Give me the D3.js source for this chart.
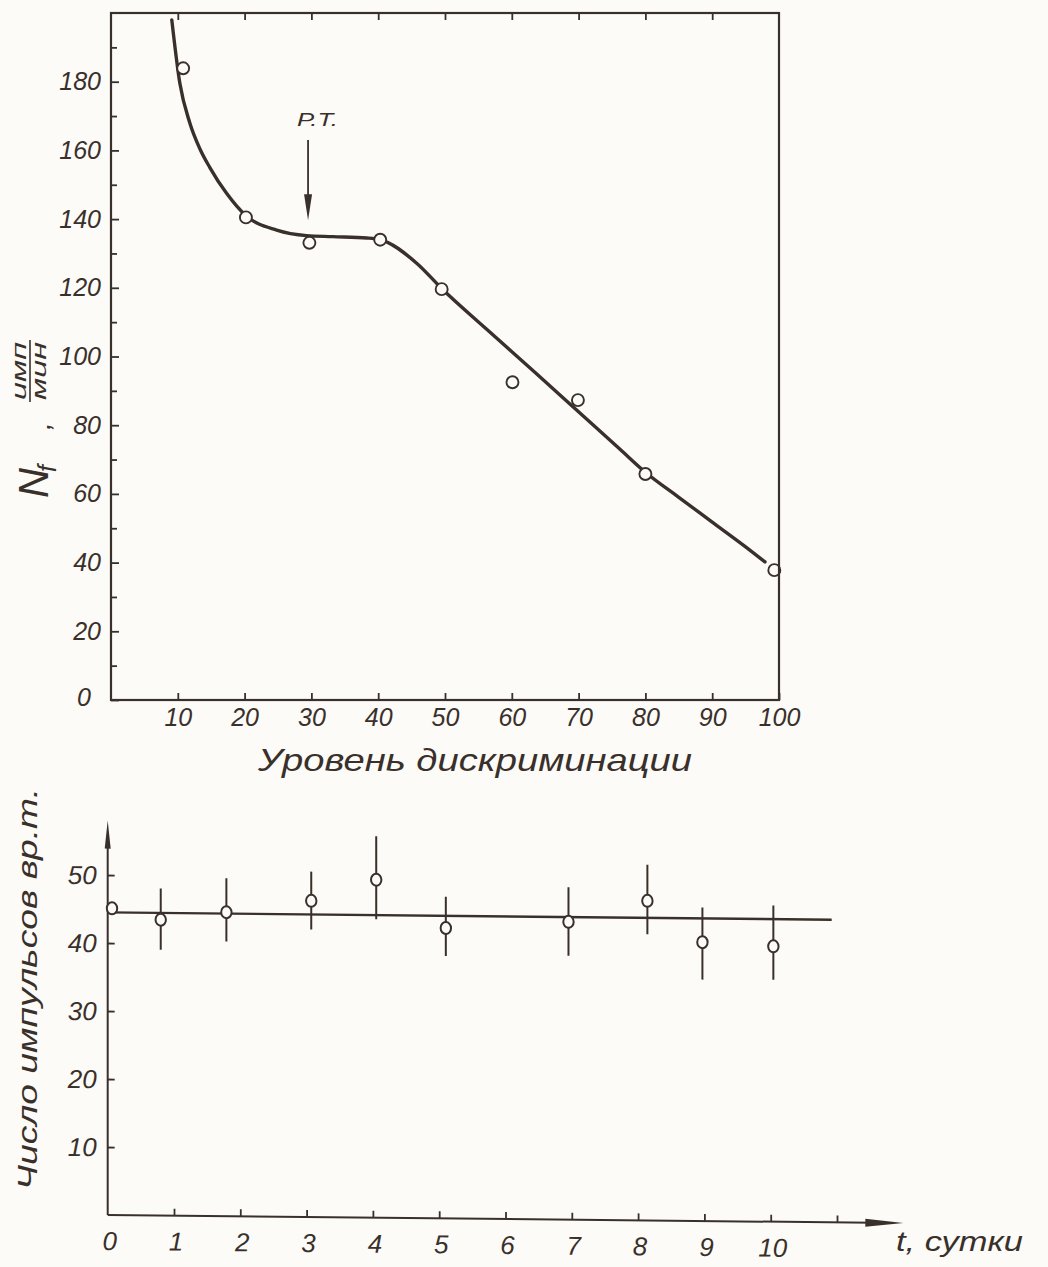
<!DOCTYPE html>
<html>
<head>
<meta charset="utf-8">
<script src="https://cdn.jsdelivr.net/npm/d3@7"></script>
<style>
  html, body { margin: 0; padding: 0; background: #fcfbf7; }
  svg { display: block; }
  text { font-family: "Liberation Sans", "DejaVu Sans", sans-serif; font-style: italic; fill: #3a302b; }
</style>
</head>
<body>
<div id="chart"></div>
<script>
// ---- upper panel: counting rate vs discrimination level ----
const topXTicks = [10, 20, 30, 40, 50, 60, 70, 80, 90, 100];
const topYMajor = [0, 20, 40, 60, 80, 100, 120, 140, 160, 180];
const topYMinor = [10, 30, 50, 70, 90, 110, 130, 150, 170, 190];

// measured points
const discrLevel = [10.8, 20.2, 29.7, 40.3, 49.5, 60.1, 69.9, 80.0, 99.3];
const countRate = [183.9, 140.5, 133.1, 134.0, 119.6, 92.5, 87.3, 65.8, 37.8];

// hand-drawn smooth curve
const curveLevel = [9.1, 10.3, 11.8, 13.3, 14.8, 17.3, 20.2, 24.8, 29.3, 33.2, 38.3, 40.3, 45.8, 49.5, 56.2, 63.7, 69.2, 76.2, 80.0, 85.0, 90.0, 95.0, 97.9];
const curveRate = [198, 179.6, 168, 160.5, 155.0, 147.5, 141.0, 136.8, 135.2, 134.9, 134.5, 134.0, 127.1, 119.8, 108.0, 95.0, 85.3, 73.0, 66.3, 59.0, 51.8, 44.6, 40.2];

// operating point marker ("Р.Т.")
const ptLevel = 29.5;
const ptArrowFrom = 163;
const ptArrowTo = 139.7;
const ptLabelAt = 167;

// ---- lower panel: counts per time interval vs days ----
const dayTicks = [1, 2, 3, 4, 5, 6, 7, 8, 9, 10, 11];
const dayLabels = [0, 1, 2, 3, 4, 5, 6, 7, 8, 9, 10];
const countTicks = [10, 20, 30, 40, 50];

const days = [0.065, 0.8, 1.79, 3.07, 4.05, 5.1, 6.95, 8.14, 8.97, 10.04];
const counts = [45.1, 43.5, 44.7, 46.5, 49.7, 42.7, 43.8, 47.0, 41.0, 40.5];
const errHigh = [null, 48.1, 49.7, 50.8, 56.1, 47.3, 48.9, 52.3, 46.1, 46.5];
const errLow = [null, 39.1, 40.4, 42.3, 43.9, 38.6, 38.8, 42.1, 35.5, 35.6];
const meanLevel = 44.5;
const meanSpan = [0, 10.92];

const ink = '#3a302b';
const paper = '#fcfbf7';

const W = 1048, H = 1267;
const svg = d3.select('#chart').append('svg').attr('width', W).attr('height', H);
svg.append('rect').attr('width', W).attr('height', H).attr('fill', paper);

// ================= upper panel =================
const x = d3.scaleLinear().domain([0, 100]).range([111, 779]);
const y = d3.scaleLinear().domain([0, 200]).range([700, 13]);

const upper = svg.append('g');

// curve first, circles cover it
upper.append('path')
  .datum(curveLevel.map((v, i) => [v, curveRate[i]]))
  .attr('fill', 'none')
  .attr('stroke', ink)
  .attr('stroke-width', 3.4)
  .attr('stroke-linecap', 'round')
  .attr('d', d3.line().x(d => x(d[0])).y(d => y(d[1])).curve(d3.curveMonotoneX));

upper.append('g').selectAll('circle')
  .data(discrLevel.map((v, i) => [v, countRate[i]]))
  .enter().append('circle')
  .attr('cx', d => x(d[0]))
  .attr('cy', d => y(d[1]))
  .attr('r', 6)
  .attr('fill', paper)
  .attr('stroke', ink)
  .attr('stroke-width', 1.9);

// frame
upper.append('rect')
  .attr('x', x(0)).attr('y', y(200))
  .attr('width', x(100) - x(0)).attr('height', y(0) - y(200))
  .attr('fill', 'none').attr('stroke', ink).attr('stroke-width', 2.2);

function styleAxis(g) {
  g.select('.domain').remove();
  g.selectAll('line').attr('stroke', ink).attr('stroke-width', 1.8);
}

// bottom ticks (inward) + labels
upper.append('g')
  .attr('transform', `translate(0,${y(0)})`)
  .call(d3.axisBottom(x).tickValues(topXTicks).tickSizeInner(-7).tickSizeOuter(0).tickPadding(8))
  .call(styleAxis)
  .call(g => g.selectAll('text').attr('font-size', 25).attr('dy', '0.71em').attr('fill', ink));

// top ticks (inward)
upper.append('g')
  .attr('transform', `translate(0,${y(200)})`)
  .call(d3.axisTop(x).tickValues(topXTicks.slice(0, 9)).tickSizeInner(-7).tickSizeOuter(0).tickFormat(''))
  .call(styleAxis);

// left ticks: major with labels, minor without
upper.append('g')
  .attr('transform', `translate(${x(0)},0)`)
  .call(d3.axisLeft(y).tickValues(topYMajor).tickSizeInner(-8).tickSizeOuter(0).tickPadding(10))
  .call(styleAxis)
  .call(g => g.selectAll('text').attr('font-size', 25).attr('fill', ink)
    .attr('dx', d => d === 0 ? -10 : 0).attr('dy', d => d === 0 ? '0.2em' : '0.32em'));

upper.append('g')
  .attr('transform', `translate(${x(0)},0)`)
  .call(d3.axisLeft(y).tickValues(topYMinor).tickSizeInner(-6).tickSizeOuter(0).tickFormat(''))
  .call(styleAxis);

// operating point arrow
upper.append('line')
  .attr('x1', x(ptLevel)).attr('x2', x(ptLevel))
  .attr('y1', y(ptArrowFrom)).attr('y2', y(ptArrowTo) - 24)
  .attr('stroke', ink).attr('stroke-width', 1.8);
upper.append('path')
  .attr('d', `M${x(ptLevel) - 4},${y(ptArrowTo) - 26} L${x(ptLevel) + 4},${y(ptArrowTo) - 26} L${x(ptLevel)},${y(ptArrowTo)} Z`)
  .attr('fill', ink);

upper.append('text')
  .attr('x', x(ptLevel) - 11).attr('y', y(ptLabelAt))
  .attr('font-size', 19)
  .attr('textLength', 41).attr('lengthAdjust', 'spacingAndGlyphs')
  .text('Р.Т.');

// x title
upper.append('text')
  .attr('x', 258).attr('y', 771)
  .attr('font-size', 32)
  .attr('textLength', 434).attr('lengthAdjust', 'spacingAndGlyphs')
  .text('Уровень дискриминации');

// y title: N_f , имп/мин (rotated)
const yt = upper.append('g').attr('transform', 'rotate(-90)');
yt.append('text')
  .attr('x', -498).attr('y', 48)
  .attr('font-size', 42)
  .attr('textLength', 30).attr('lengthAdjust', 'spacingAndGlyphs')
  .text('N');
yt.append('text')
  .attr('x', -472).attr('y', 56)
  .attr('font-size', 25)
  .text('f');
yt.append('text')
  .attr('x', -430).attr('y', 50)
  .attr('font-size', 28)
  .text(',');
yt.append('text')
  .attr('x', -400).attr('y', 26)
  .attr('font-size', 21)
  .attr('textLength', 58).attr('lengthAdjust', 'spacingAndGlyphs')
  .text('имп');
yt.append('line')
  .attr('x1', -402).attr('x2', -340).attr('y1', 30).attr('y2', 30)
  .attr('stroke', ink).attr('stroke-width', 1.6);
yt.append('text')
  .attr('x', -400).attr('y', 46)
  .attr('font-size', 21)
  .attr('textLength', 58).attr('lengthAdjust', 'spacingAndGlyphs')
  .text('мин');

// ================= lower panel =================
const bx = d3.scaleLinear().domain([0, 12]).range([107.7, 107.7 + 12 * 66.3]);
const by = d3.scaleLinear().domain([0, 58]).range([1215, 1215 - 58 * 6.8]);

const ox = bx(0), oy = by(0);
// the scanned page is slightly sheared; follow it
const lower = svg.append('g')
  .attr('transform', `translate(${ox},${oy}) skewY(0.58) translate(${-ox},${-oy})`);

// axes lines
lower.append('line')
  .attr('x1', bx(0)).attr('x2', bx(12) - 30).attr('y1', by(0)).attr('y2', by(0))
  .attr('stroke', ink).attr('stroke-width', 2);
lower.append('path')
  .attr('d', `M${bx(12) - 38},${by(0) - 4} L${bx(12)},${by(0)} L${bx(12) - 38},${by(0) + 4} Z`)
  .attr('fill', ink);

lower.append('line')
  .attr('x1', bx(0)).attr('x2', bx(0)).attr('y1', by(0)).attr('y2', by(58) + 24)
  .attr('stroke', ink).attr('stroke-width', 2);
lower.append('path')
  .attr('d', `M${bx(0) - 3},${by(58) + 28} L${bx(0)},${by(58)} L${bx(0) + 3},${by(58) + 28} Z`)
  .attr('fill', ink);

lower.append('g')
  .attr('transform', `translate(0,${by(0)})`)
  .call(d3.axisBottom(bx).tickValues(dayTicks).tickSizeInner(-7).tickSizeOuter(0).tickFormat(''))
  .call(styleAxis);

lower.append('g')
  .selectAll('text.day')
  .data(dayLabels)
  .enter().append('text')
  .attr('class', 'day')
  .attr('x', d => bx(d) + 2)
  .attr('y', by(0) + 35)
  .attr('text-anchor', 'middle')
  .attr('font-size', 26)
  .text(d => d);

lower.append('g')
  .attr('transform', `translate(${bx(0)},0)`)
  .call(d3.axisLeft(by).tickValues(countTicks).tickSizeInner(-7).tickSizeOuter(0).tickPadding(11))
  .call(styleAxis)
  .call(g => g.selectAll('text').attr('font-size', 26).attr('fill', ink).attr('dy', '0.34em'));

// mean level line
lower.append('line')
  .attr('x1', bx(meanSpan[0])).attr('x2', bx(meanSpan[1]))
  .attr('y1', by(meanLevel)).attr('y2', by(meanLevel))
  .attr('stroke', ink).attr('stroke-width', 2.4);

// error bars
lower.append('g').selectAll('line')
  .data(days.map((d, i) => ({ t: d, hi: errHigh[i], lo: errLow[i] })).filter(d => d.hi != null))
  .enter().append('line')
  .attr('x1', d => bx(d.t)).attr('x2', d => bx(d.t))
  .attr('y1', d => by(d.hi)).attr('y2', d => by(d.lo))
  .attr('stroke', ink).attr('stroke-width', 2);

lower.append('g').selectAll('ellipse')
  .data(days.map((d, i) => [d, counts[i]]))
  .enter().append('ellipse')
  .attr('cx', d => bx(d[0]))
  .attr('cy', d => by(d[1]))
  .attr('rx', 5.2).attr('ry', 6)
  .attr('fill', paper)
  .attr('stroke', ink)
  .attr('stroke-width', 2);

// x title
svg.append('text')
  .attr('x', 896).attr('y', 1251)
  .attr('font-size', 27)
  .attr('textLength', 127).attr('lengthAdjust', 'spacingAndGlyphs')
  .text('t, сутки');

// y title (rotated)
svg.append('text')
  .attr('transform', 'rotate(-90)')
  .attr('x', -1190).attr('y', 37)
  .attr('font-size', 27)
  .attr('textLength', 402).attr('lengthAdjust', 'spacingAndGlyphs')
  .text('Число импульсов вр.т.');
</script>
</body>
</html>
